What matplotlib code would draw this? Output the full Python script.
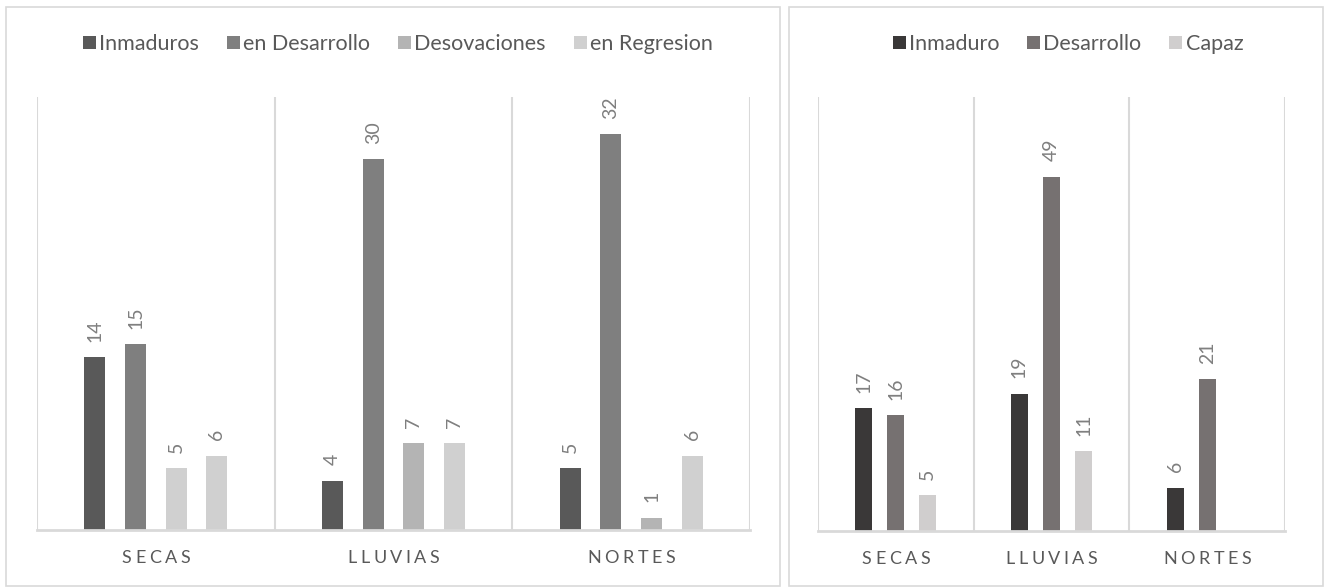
import numpy as np
import matplotlib
matplotlib.use('Agg')
import matplotlib.pyplot as plt
from matplotlib.patches import Patch, Rectangle
from matplotlib.transforms import offset_copy

plt.rcParams['font.family'] = ['Lato', 'DejaVu Sans']

# =============================================================================
# data
# =============================================================================
seasons = ['SECAS', 'LLUVIAS', 'NORTES']

left_series = ['Inmaduros', 'en Desarrollo', 'Desovaciones', 'en Regresion']
inmaduros = [14, 4, 5]
en_desarrollo = [15, 30, 32]
desovaciones = [5, 7, 1]
en_regresion = [6, 7, 6]

right_series = ['Inmaduro', 'Desarrollo', 'Capaz']
inmaduro = [17, 19, 6]
desarrollo = [16, 49, 21]
capaz = [5, 11, np.nan]

# =============================================================================
# style
# =============================================================================
W, H = 1325, 587
left_colors = ['#595959', '#7f7f7f', '#b4b4b4', '#d0d0d0']
right_colors = ['#3a3838', '#767171', '#d0cece']
grid_c = '#d9d9d9'
text_c = '#595959'
label_c = '#7f7f7f'
tracking = 3.5  # px between letters of the category labels


def px_axes(fig, x0, y0, x1, y1):
    # pixel box (top-left origin) -> figure axes
    return fig.add_axes([x0 / W, 1 - y1 / H, (x1 - x0) / W, (y1 - y0) / H])


def spaced_label(ax, xc, txt, renderer, size=13, dy=-28):
    # category text with extra letter spacing, centred on xc
    widths = []
    for ch in txt:
        t = ax.text(0, 0, ch, fontsize=size)
        widths.append(t.get_window_extent(renderer).width)
        t.remove()
    total = sum(widths) + tracking * (len(txt) - 1)
    pos = -total / 2.0
    for ch, w in zip(txt, widths):
        tr = offset_copy(ax.get_xaxis_transform(), fig=ax.figure,
                         x=(pos + w / 2.0) * 0.72, y=dy * 0.72,
                         units='points')
        ax.text(xc, 0, ch, transform=tr, ha='center', va='center',
                fontsize=size, color=text_c)
        pos += w + tracking


def draw_panel(ax, series_vals, colors, width, step, ymax,
               special=None):
    n = len(series_vals)
    x = np.arange(len(seasons))
    for i, vals in enumerate(series_vals):
        off = (i - (n - 1) / 2.0) * step
        cols = [colors[i]] * len(vals)
        if special is not None and special[0] == i:
            cols[special[1]] = special[2]
        ax.bar(x + off, vals, width, color=cols, zorder=3)
        for xi, v in zip(x + off, vals):
            if np.isnan(v):
                continue
            ax.annotate('%d' % v, (xi, v), xytext=(0, 11),
                        textcoords='offset points', rotation=90,
                        ha='center', va='bottom', fontsize=14,
                        color=label_c)
    ax.set_xlim(-0.5, len(seasons) - 0.5)
    ax.set_ylim(0, ymax)
    for b in np.arange(len(seasons) + 1) - 0.5:
        ax.axvline(b, color=grid_c, lw=1.5, zorder=1)
    ax.axhline(0, color=grid_c, lw=2, zorder=4, clip_on=False)
    for s in ax.spines.values():
        s.set_visible(False)
    ax.set_yticks([])
    ax.set_xticks([])
    renderer = ax.figure.canvas.get_renderer()
    for xi, name in zip(x, seasons):
        spaced_label(ax, xi, name, renderer)


fig = plt.figure(figsize=(W / 100.0, H / 100.0), dpi=100)

# panel borders
fig.patches.append(Rectangle((6 / W, 1 - 586 / H), (780 - 6) / W,
                             (586 - 7) / H, transform=fig.transFigure,
                             fill=False, edgecolor=grid_c, lw=1.2))
fig.patches.append(Rectangle((789 / W, 1 - 586 / H), (1323 - 789) / W,
                             (586 - 7) / H, transform=fig.transFigure,
                             fill=False, edgecolor=grid_c, lw=1.2))

ax1 = px_axes(fig, 37, 97, 750, 530)
draw_panel(ax1, [inmaduros, en_desarrollo, desovaciones, en_regresion],
           left_colors, 0.088, 0.171, 35,
           special=(2, 0, left_colors[3]))

ax2 = px_axes(fig, 818, 97, 1285, 531)
draw_panel(ax2, [inmaduro, desarrollo, capaz],
           right_colors, 0.109, 0.206, 60)

h1 = [Patch(facecolor=c) for c in left_colors]
fig.legend(h1, left_series, loc='center', ncol=4, frameon=False,
           bbox_to_anchor=(398 / W, 1 - 44 / H), fontsize=15.5,
           handlelength=0.6, handleheight=0.6, handletextpad=0.15,
           columnspacing=1.3, labelcolor=text_c)

h2 = [Patch(facecolor=c) for c in right_colors]
fig.legend(h2, right_series, loc='center', ncol=3, frameon=False,
           bbox_to_anchor=(1068 / W, 1 - 44 / H), fontsize=15.5,
           handlelength=0.6, handleheight=0.6, handletextpad=0.15,
           columnspacing=1.3, labelcolor=text_c)

fig.savefig('out.png', dpi=100)
